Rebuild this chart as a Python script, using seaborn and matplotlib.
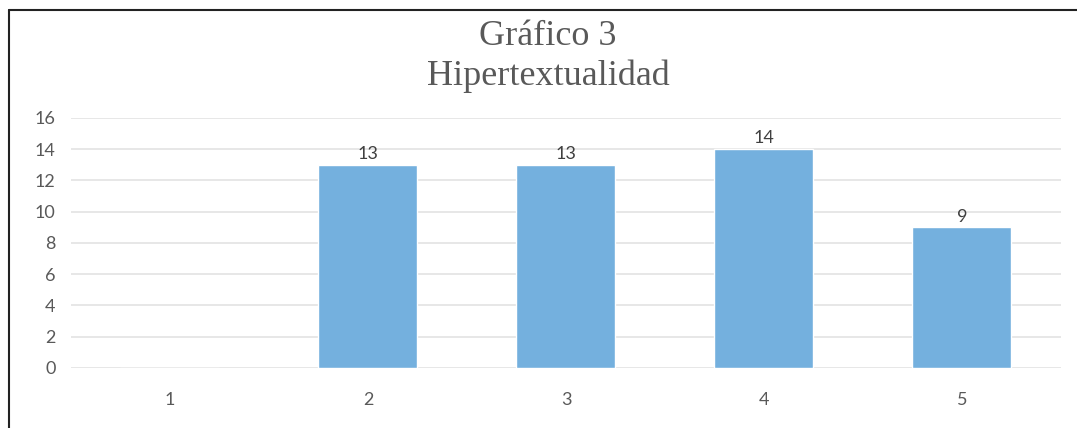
import matplotlib
matplotlib.use('Agg')
import matplotlib.pyplot as plt
from matplotlib.lines import Line2D
import seaborn as sns
import pandas as pd

# Chart data
categories = ['1', '2', '3', '4', '5']
values = [0, 13, 13, 14, 9]
y_ticks = [0, 2, 4, 6, 8, 10, 12, 14, 16]
title_line1 = 'Gráfico 3'
title_line2 = 'Hipertextualidad'

df = pd.DataFrame({'categoria': categories, 'valor': values})

sns.set_style('white')
plt.rcParams['font.family'] = ['Lato', 'DejaVu Sans']

fig = plt.figure(figsize=(10.77, 4.28), dpi=100)
ax = fig.add_axes([0.0659, 0.1402, 0.9192, 0.5841])

sns.barplot(data=df, x='categoria', y='valor', color='#74B0DE',
            width=0.5, saturation=1, ax=ax, zorder=3)

ax.set_ylim(0, 16)
ax.set_xlim(-0.5, len(categories) - 0.5)
ax.set_yticks(y_ticks)
ax.yaxis.grid(True, color='#E3E3E3', linewidth=1.2, zorder=0)
ax.set_axisbelow(True)
for s in ax.spines.values():
    s.set_visible(False)
ax.set_xlabel('')
ax.set_ylabel('')
ax.tick_params(axis='both', length=0, labelsize=13, colors='#595959')
ax.tick_params(axis='x', pad=17)
ax.tick_params(axis='y', pad=11)

# value labels (skip empty bar)
for i, v in enumerate(values):
    if v > 0:
        ax.annotate(str(v), (i, v), xytext=(0, 2), textcoords='offset points',
                    ha='center', va='bottom', fontsize=13, color='#404040')

fig.text(0.509, 0.915, title_line1, ha='center', va='center',
         family='Liberation Serif', fontsize=26, color='#595959')
fig.text(0.509, 0.823, title_line2, ha='center', va='center',
         family='Liberation Serif', fontsize=26, color='#595959')

# frame lines left and top
fig.add_artist(Line2D([9 / 1077, 9 / 1077], [0, 1 - 10 / 428],
                      transform=fig.transFigure, color='#222222', linewidth=1.5))
fig.add_artist(Line2D([9 / 1077, 1], [1 - 10 / 428, 1 - 10 / 428],
                      transform=fig.transFigure, color='#222222', linewidth=1.5))

fig.savefig('out.png', dpi=100)
